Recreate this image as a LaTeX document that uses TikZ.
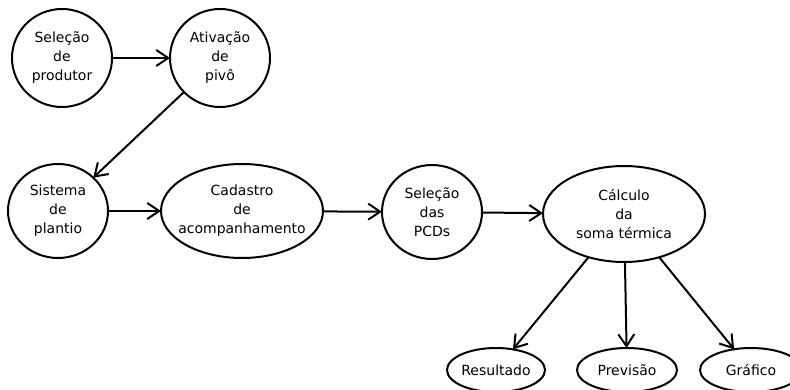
\documentclass[tikz,border=0pt]{standalone}
\usepackage{fontspec}
\setmainfont{DejaVu Sans}
\usetikzlibrary{shapes.geometric,arrows.meta}
\begin{document}
\begin{tikzpicture}[x=1pt,y=-1pt,
  bubble/.style={ellipse,draw,line width=2pt,inner xsep=-20pt,inner ysep=-10pt,
    outer sep=0pt,align=center,font=\fontsize{14}{19}\selectfont},
  flow/.style={line width=2pt,-{Straight Barb[length=12pt,width=16pt,line width=2pt]}}]
  \fill[white] (0,0) rectangle (790,390);
  \clip (0,0) rectangle (790,390);
  \useasboundingbox (0,0) rectangle (790,390);

  \node[bubble,minimum width=100pt,minimum height=98pt] (prod) at (62,58) {Seleção\\de\\produtor};
  \node[bubble,minimum width=100pt,minimum height=98pt] (pivo) at (220,58) {Ativação\\de\\pivô};
  \node[bubble,minimum width=100pt,minimum height=94pt] (plant) at (58,211) {Sistema\\de\\plantio};
  \node[bubble,minimum width=162pt,minimum height=94pt] (cad) at (242,211) {Cadastro\\de\\acompanhamento};
  \node[bubble,minimum width=100pt,minimum height=94pt] (pcd) at (432,212) {Seleção\\das\\PCDs};
  \node[bubble,minimum width=162pt,minimum height=96pt] (calc) at (624,214) {Cálculo\\da\\soma térmica};
  \node[bubble,minimum width=98pt,minimum height=44pt] (res) at (496,370) {Resultado};
  \node[bubble,minimum width=100pt,minimum height=44pt] (prev) at (627,370) {Previsão};
  \node[bubble,minimum width=102pt,minimum height=44pt] (graf) at (751,370) {Gráfico};

  \draw[flow] (prod) -- (pivo);
  \draw[flow] (pivo) -- (plant);
  \draw[flow] (plant) -- (cad);
  \draw[flow] (cad) -- (pcd);
  \draw[flow] (pcd) -- (calc);
  \draw[flow] (calc) -- (res);
  \draw[flow] (calc) -- (prev);
  \draw[flow] (calc) -- (graf);
\end{tikzpicture}
\end{document}
